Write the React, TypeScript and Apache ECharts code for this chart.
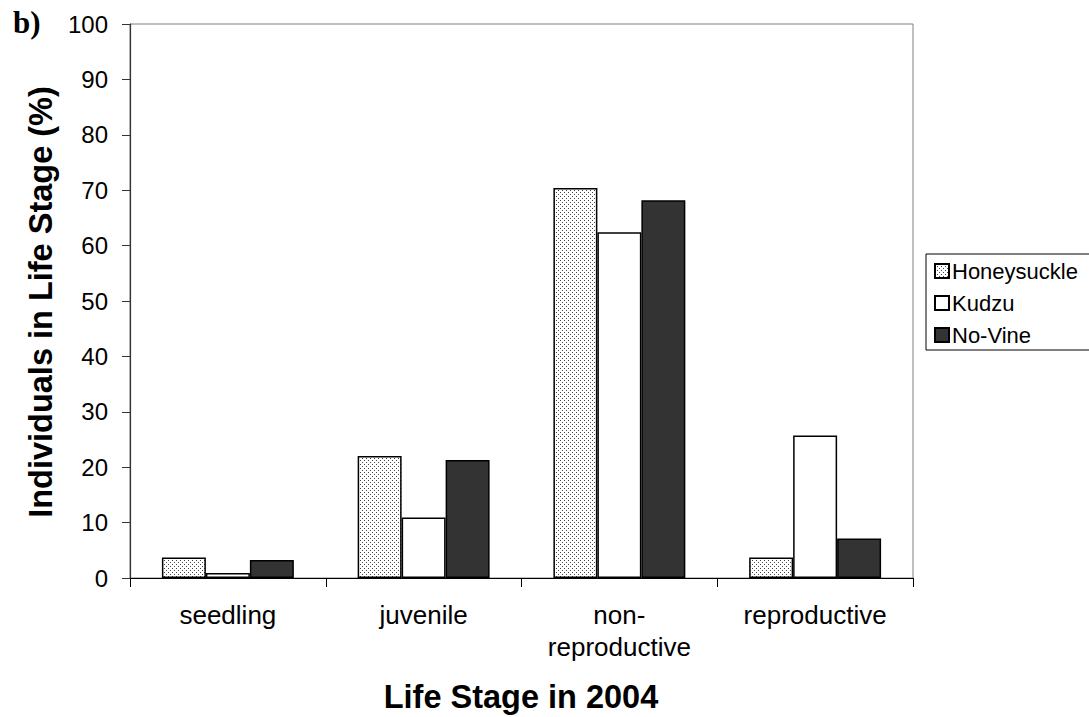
import React, { useEffect, useRef } from "react";
import * as echarts from "echarts";

const categories = ["seedling", "juvenile", "non-\nreproductive", "reproductive"];
const seriesNames = ["Honeysuckle", "Kudzu", "No-Vine"];
const honeysuckle = [3.7, 22.0, 70.4, 3.7];
const kudzu = [0.9, 10.9, 62.4, 25.7];
const noVine = [3.25, 21.3, 68.2, 7.15];
const yTicks = { min: 0, max: 100, interval: 10 };

const FONT = "'Liberation Sans', Arial, sans-serif";

function makeDotPattern(): string {
  const c = document.createElement("canvas");
  c.width = 4;
  c.height = 4;
  const ctx = c.getContext("2d")!;
  ctx.fillStyle = "#ffffff";
  ctx.fillRect(0, 0, 4, 4);
  ctx.fillStyle = "#444444";
  ctx.fillRect(0, 0, 1, 1);
  ctx.fillRect(2, 2, 1, 1);
  return c.toDataURL();
}

export default function App() {
  const ref = useRef<HTMLDivElement>(null);
  useEffect(() => {
    if (!ref.current) return;
    const chart = echarts.init(ref.current, undefined, { renderer: "svg" });
    const pattern = { image: makeDotPattern(), repeat: "repeat" } as any;
    const fills = [pattern, "#ffffff", "#333333"];
    const data = [honeysuckle, kudzu, noVine];
    chart.setOption({
      animation: false,
      backgroundColor: "#ffffff",
      grid: {
        left: 130,
        top: 24,
        right: 176,
        bottom: 139,
        show: true,
        borderColor: "#808080",
        borderWidth: 1,
        backgroundColor: "transparent",
      },
      legend: {
        orient: "vertical",
        left: 926,
        top: 254,
        data: seriesNames,
        icon: "rect",
        itemWidth: 14,
        itemHeight: 14,
        itemGap: 10,
        borderColor: "#000000",
        borderWidth: 1,
        padding: [6, 30, 4, 8],
        textStyle: { fontFamily: FONT, fontSize: 22, color: "#000", lineHeight: 22, padding: [0, 0, 0, -2] },
      },
      xAxis: {
        type: "category",
        data: categories,
        boundaryGap: true,
        axisLine: { show: true, lineStyle: { color: "#000", width: 1.2 } },
        axisTick: { show: true, length: 9, alignWithLabel: false, lineStyle: { color: "#000" } },
        axisLabel: {
          fontFamily: FONT,
          fontSize: 26,
          color: "#000",
          margin: 21,
          lineHeight: 32,
          interval: 0,
        },
      },
      yAxis: {
        type: "value",
        min: yTicks.min,
        max: yTicks.max,
        interval: yTicks.interval,
        axisLine: { show: true, lineStyle: { color: "#333", width: 1.2 } },
        axisTick: { show: true, length: 8, lineStyle: { color: "#333" } },
        splitLine: { show: false },
        axisLabel: { fontFamily: FONT, fontSize: 24, color: "#000", margin: 22 },
      },
      series: seriesNames.map((name, i) => ({
        name,
        type: "bar",
        data: data[i],
        barGap: "0%",
        barCategoryGap: "32.6%",
        itemStyle: { color: fills[i], borderColor: "#000", borderWidth: 1.5 },
      })),
      graphic: [
        {
          type: "text",
          left: 13,
          top: 7,
          style: { text: "b)", fontFamily: "'Liberation Serif', 'Times New Roman', serif", fontWeight: "bold", fontSize: 31, fill: "#000" },
        },
        {
          type: "text",
          x: 41,
          y: 302,
          rotation: Math.PI / 2,
          style: {
            text: "Individuals in Life Stage (%)",
            fontFamily: FONT,
            fontWeight: "bold",
            fontSize: 32.5,
            fill: "#000",
            align: "center",
            verticalAlign: "middle",
          },
        },
        {
          type: "text",
          x: 521,
          y: 697,
          style: {
            text: "Life Stage in 2004",
            fontFamily: FONT,
            fontWeight: "bold",
            fontSize: 32.5,
            fill: "#000",
            align: "center",
            verticalAlign: "middle",
          },
        },
      ],
    });
    return () => chart.dispose();
  }, []);
  return <div ref={ref} style={{ position: "fixed", left: 0, top: 0, width: 1089, height: 717 }} />;
}
